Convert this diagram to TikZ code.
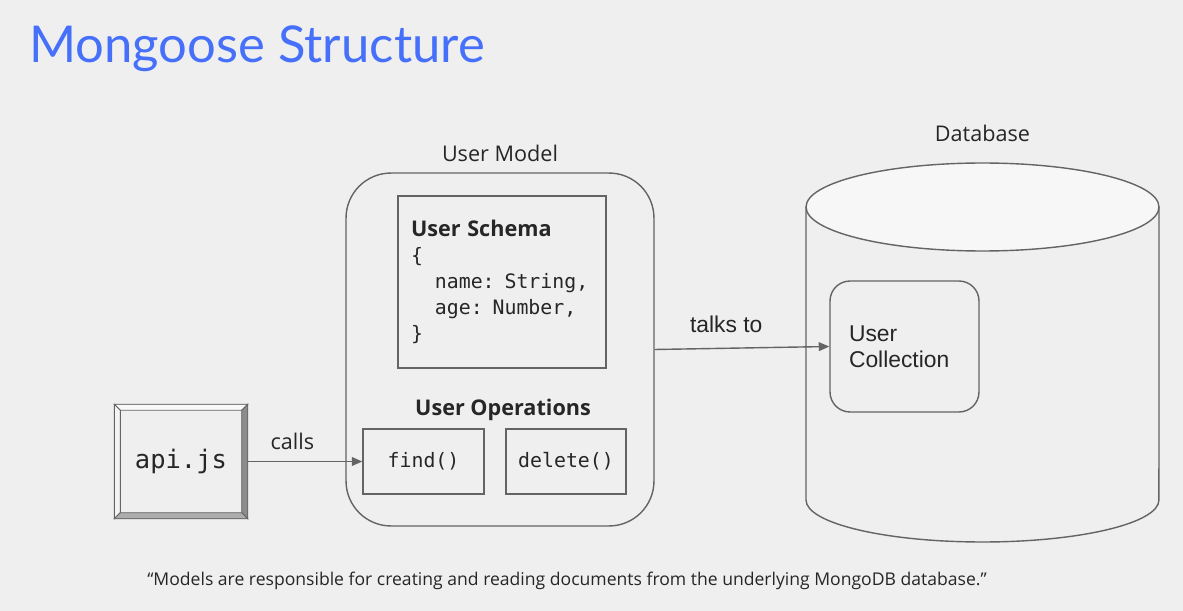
\documentclass[tikz,border=0pt]{standalone}
\usepackage{fontspec}
\setmainfont{Open Sans}
\setmonofont{DejaVu Sans Mono}
\newfontfamily\arialfont{Liberation Sans}
\newfontfamily\titlefont{Lato}
\usetikzlibrary{calc,arrows.meta}
\definecolor{bgcol}{RGB}{239,239,239}
\definecolor{linecol}{RGB}{100,100,100}
\definecolor{titleblue}{RGB}{70,112,250}
\tikzset{
	box/.style={draw=linecol, line width=0.8pt, fill=bgcol, inner sep=0pt},
	link/.style={draw=linecol, line width=0.8pt, -{Triangle[length=6pt,width=5pt]}},
	lbl/.style={font=\fontsize{12.3}{14.8}\selectfont, text=black!85},
	code/.style={font=\ttfamily\fontsize{11.3}{14.8}\selectfont, text=black!85},
	bevel/.style={draw=linecol, line width=0.5pt}
}

\begin{document}
\begin{tikzpicture}[x=0.02cm,y=-0.02cm]
			%%%%% START %%%%%
			
			\fill[bgcol] (0,0) rectangle (1183,611);
			\useasboundingbox (0,0) rectangle (1183,611);
			
			\node[anchor=base west, inner sep=0pt, text=titleblue, font=\titlefont\fontsize{28.9}{31}\selectfont] (title) at (29,63) {Mongoose Structure};
			
			% api.js
			\node[box, minimum width=2.64cm, minimum height=2.26cm, font=\ttfamily\fontsize{14.5}{17}\selectfont, text=black!85] (api) at (181,461.5) {api.js};
			\fill[bevel, fill=white!60!bgcol] (api.north west) -- (api.north east) -- ($(api.north east)+(-6,6)$) -- ($(api.north west)+(6,6)$) -- cycle;
			\fill[bevel, fill=white!30!bgcol] (api.north west) -- ($(api.north west)+(6,6)$) -- ($(api.south west)+(6,-6)$) -- (api.south west) -- cycle;
			\fill[bevel, fill=black!45] (api.north east) -- (api.south east) -- ($(api.south east)+(-6,-6)$) -- ($(api.north east)+(-6,6)$) -- cycle;
			\fill[bevel, fill=black!32] (api.south west) -- ($(api.south west)+(6,-6)$) -- ($(api.south east)+(-6,-6)$) -- (api.south east) -- cycle;
			
			% user model
			\node[box, rounded corners=0.9cm, minimum width=6.16cm, minimum height=7.06cm] (model) at (500,349.5) {};
			\node[lbl] (modellbl) at (500,153) {User Model};
			
			\node[box, code, minimum width=4.16cm, minimum height=3.44cm, text width=3.64cm, inner xsep=0.26cm, align=left] (schema) at (502,282) {{\rmfamily\bfseries\fontsize{12.3}{14.8}\selectfont User Schema}\\
				\{\\
				\phantom{xx}name: String,\\
				\phantom{xx}age: Number,\\
				\}};
			
			\node[lbl, font=\bfseries\fontsize{12.3}{14.8}\selectfont] (opslbl) at (503,410) {User Operations};
			\node[box, code, minimum width=2.42cm, minimum height=1.3cm] (find) at (423.5,461.5) {find()};
			\node[box, code, minimum width=2.4cm, minimum height=1.3cm] (delete) at (566,461.5) {delete()};
			
			% database
			\node[lbl] (dblbl) at (982.5,133) {Database};
			\draw[linecol, line width=0.8pt, fill=bgcol] (806,207) -- (806,500) arc[start angle=180, end angle=360, x radius=3.53cm, y radius=0.84cm] -- (1159,207);
			\draw[linecol, line width=0.8pt, fill=white!50!bgcol] (982.5,207) ellipse [x radius=3.53cm, y radius=0.88cm];
			
			\node[box, rounded corners=0.4cm, minimum width=2.98cm, minimum height=2.62cm, text width=2.22cm, inner xsep=0.38cm, align=left, font=\arialfont\fontsize{13}{14.8}\selectfont, text=black!85] (coll) at (904.5,346.5) {User\\Collection};
			
			% arrows
			\draw[link] (api.east) -- node[lbl, pos=0.39, yshift=11.4pt] (callslbl) {calls} (find.west);
			\draw[link] (model.east) -- node[lbl, font=\arialfont\fontsize{13}{14.8}\selectfont, pos=0.41, yshift=13.5pt] (talkslbl) {talks to} (coll.west);
			
			\node[lbl, font=\fontsize{10}{12}\selectfont] (quote) at (567,581) {“Models are responsible for creating and reading documents from the underlying MongoDB database.”};
			
			%%%%% END %%%%%
\end{tikzpicture}
\end{document}
